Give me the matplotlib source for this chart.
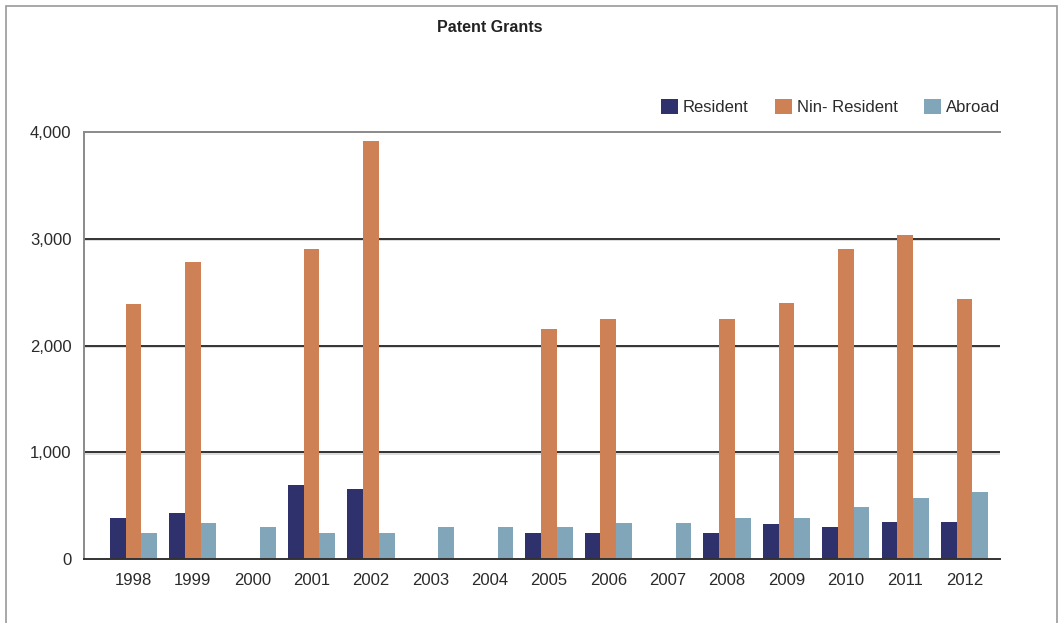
import numpy as np
import matplotlib
matplotlib.use('Agg')
import matplotlib.pyplot as plt
import matplotlib.patheffects as pe
from matplotlib.patches import Rectangle

plt.rcParams['font.family'] = ['Liberation Sans Narrow', 'Liberation Sans', 'DejaVu Sans']

years = ['1998', '1999', '2000', '2001', '2002', '2003', '2004', '2005',
         '2006', '2007', '2008', '2009', '2010', '2011', '2012']
resident = [385, 430, 0, 695, 655, 0, 0, 245, 245, 0, 245, 330, 300, 350, 350]
non_resident = [2390, 2785, 0, 2905, 3915, 0, 0, 2155, 2250, 0, 2250, 2400, 2905, 3035, 2440]
abroad = [245, 340, 300, 245, 245, 300, 300, 300, 340, 340, 385, 385, 490, 575, 630]
series_names = ['Resident', 'Nin- Resident', 'Abroad']
colors = ['#2E316B', '#CF8156', '#81A5B9']

fig = plt.figure(figsize=(10.58, 6.23), dpi=100)
ax = fig.add_axes([84 / 1058, 64 / 623, 916 / 1058, 427 / 623])

x = np.arange(len(years))
w = 0.265
for k, (vals, name, c) in enumerate(zip([resident, non_resident, abroad], series_names, colors)):
    ax.bar(x + (k - 1) * w, vals, w, color=c, label=name, zorder=3)

ax.set_xlim(-0.834, 14.598)
ax.set_ylim(0, 4000)
ax.set_yticks([0, 1000, 2000, 3000, 4000])
ax.set_yticklabels(['0', '1,000', '2,000', '3,000', '4,000'])
ax.set_xticks(x)
ax.set_xticklabels(years)
ax.tick_params(length=0, labelsize=12, colors='#2a2a2a')
ax.tick_params(axis='y', pad=9)
ax.tick_params(axis='x', pad=10)

# gridlines with a light shadow underneath
for yv in [1000, 2000, 3000]:
    ax.axhline(yv, color='#333333', lw=1.4, zorder=1,
               path_effects=[pe.SimpleLineShadow(offset=(0, -1.2), shadow_color='#dddddd', alpha=1),
                             pe.Normal()])

ax.spines['right'].set_visible(False)
ax.spines['top'].set_color('#8a8a8a')
ax.spines['left'].set_color('#8a8a8a')
ax.spines['top'].set_linewidth(1.4)
ax.spines['left'].set_linewidth(1.4)
ax.spines['bottom'].set_color('#333333')
ax.spines['bottom'].set_linewidth(1.4)
ax.spines['bottom'].set_zorder(4)

fig.text(490 / 1058, 1 - 28 / 623, 'Patent Grants', ha='center', va='center',
         fontsize=11.5, fontweight='bold', color='#222222')

leg = ax.legend(loc='lower right', bbox_to_anchor=(1.0, 1.0 + 17 / 427), ncol=3, frameon=False,
                fontsize=12, handlelength=1.0, handleheight=1.0, handletextpad=0.3,
                columnspacing=1.6, borderaxespad=0.0, borderpad=0.0)
for t in leg.get_texts():
    t.set_color('#2a2a2a')

# outer frame around the figure
fig.patches.append(Rectangle((6 / 1058, -0.1), 1051 / 1058, 1.1 - 6 / 623,
                             transform=fig.transFigure, fill=False,
                             edgecolor='#9a9a9a', lw=1.2))

fig.savefig('out.png', dpi=100)
